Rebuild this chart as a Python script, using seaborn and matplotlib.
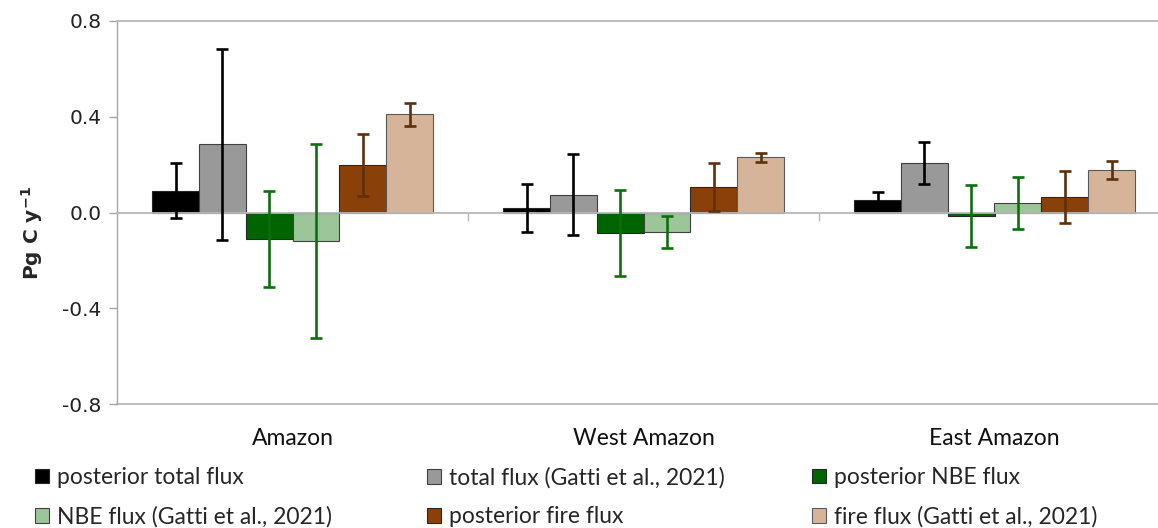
import matplotlib
matplotlib.use("Agg")
import matplotlib.pyplot as plt
from matplotlib.patches import Patch
import numpy as np
import pandas as pd
import seaborn as sns

# Regions and flux series
regions = ["Amazon", "West Amazon", "East Amazon"]
series = [
    "posterior total flux",
    "total flux (Gatti et al., 2021)",
    "posterior NBE flux",
    "NBE flux (Gatti et al., 2021)",
    "posterior fire flux",
    "fire flux (Gatti et al., 2021)",
]

# Mean fluxes (Pg C / yr), one list per series, ordered by region
posterior_total = [0.090, 0.020, 0.053]
gatti_total = [0.285, 0.075, 0.207]
posterior_nbe = [-0.110, -0.085, -0.015]
gatti_nbe = [-0.120, -0.082, 0.040]
posterior_fire = [0.200, 0.105, 0.065]
gatti_fire = [0.410, 0.230, 0.177]

# Uncertainties (symmetric error bars)
posterior_total_err = [0.115, 0.100, 0.033]
gatti_total_err = [0.400, 0.170, 0.088]
posterior_nbe_err = [0.200, 0.180, 0.130]
gatti_nbe_err = [0.405, 0.067, 0.110]
posterior_fire_err = [0.130, 0.100, 0.110]
gatti_fire_err = [0.047, 0.020, 0.038]

values = [posterior_total, gatti_total, posterior_nbe, gatti_nbe, posterior_fire, gatti_fire]
errors = [posterior_total_err, gatti_total_err, posterior_nbe_err, gatti_nbe_err,
          posterior_fire_err, gatti_fire_err]

bar_colors = ["#000000", "#999999", "#006400", "#9dc59a", "#8a4109", "#d6b499"]
edge_colors = ["#262626", "#404040", "#262626", "#404040", "#262626", "#595959"]
err_colors = ["#000000", "#000000", "#0b700b", "#0b700b", "#5e2f0b", "#5e2f0b"]

df = pd.DataFrame(
    [(r, s, v) for s, vals in zip(series, values) for r, v in zip(regions, vals)],
    columns=["region", "series", "flux"],
)

sns.set_theme(style="white")
plt.rcParams["font.family"] = ["DejaVu Sans"]
text_font = ["Lato", "DejaVu Sans"]

W, H = 1158, 528
fig = plt.figure(figsize=(W / 100, H / 100), dpi=100)
# Plot area runs slightly past the right edge of the canvas
left_px, right_px, top_px, bot_px = 117, 1170, 21, 404
ax = fig.add_axes([left_px / W, 1 - bot_px / H, (right_px - left_px) / W, (bot_px - top_px) / H])

sns.barplot(
    data=df, x="region", y="flux", hue="series", order=regions, hue_order=series,
    palette=bar_colors, saturation=1, width=0.8, gap=0, errorbar=None, legend=False,
    linewidth=0.8, ax=ax,
)

# Per-series edges and error bars, positioned from the drawn patches
bars = ax.patches
k = 0
for i in range(len(series)):
    for j in range(len(regions)):
        p = bars[k]
        k += 1
        p.set_edgecolor(edge_colors[i])
        cx = p.get_x() + p.get_width() / 2
        ax.errorbar(cx, values[i][j], yerr=errors[i][j], fmt="none",
                    ecolor=err_colors[i], elinewidth=1.9, capsize=4.5,
                    capthick=1.9, zorder=5)

ax.set_xlim(-0.5, 2.5)
ax.set_ylim(-0.8, 0.8)
ax.set_yticks([-0.8, -0.4, 0.0, 0.4, 0.8])
ax.set_yticklabels(["-0.8", "-0.4", "0.0", "0.4", "0.8"], fontsize=14.5,
                   family="DejaVu Sans", color="#222222")
ax.tick_params(axis="y", direction="out", length=6, width=1, color="#a6a6a6",
               pad=5, left=True)

# Horizontal axis sits at zero; category boundaries get short ticks
grey = "#b8b8b8"
ax.spines["bottom"].set_position(("data", 0))
ax.spines["bottom"].set_color(grey)
ax.spines["bottom"].set_linewidth(1.3)
ax.spines["left"].set_color("#a6a6a6")
ax.spines["left"].set_linewidth(1.0)
ax.spines["top"].set_color(grey)
ax.spines["top"].set_linewidth(1.3)
ax.spines["right"].set_visible(False)
ax.axhline(-0.8, color=grey, lw=1.3, zorder=0, clip_on=False)

ax.set_xticks([0, 1, 2])
ax.set_xticklabels(regions, fontsize=16.5, family=text_font, color="#111111")
ax.set_xticks([0.5, 1.5], minor=True)
ax.tick_params(axis="x", which="major", length=0, pad=155)
ax.tick_params(axis="x", which="minor", direction="out", length=6, width=1,
               color=grey, bottom=True)
ax.set_xlabel("")
ax.set_ylabel("Pg C y$^{\\mathbf{-1}}$", fontsize=14.5, fontweight="bold")
ax.yaxis.set_label_coords(-0.068, 0.446)

# Legend laid out as three columns of two entries
handles = [Patch(facecolor=c, edgecolor=e, linewidth=0.8) for c, e in zip(bar_colors, edge_colors)]
col_x = [0.0302, 0.3687, 0.7012]
for c in range(3):
    idx = [c, c + 3]
    fig.legend([handles[i] for i in idx], [series[i] for i in idx],
               loc="upper left", bbox_to_anchor=(col_x[c], 0.115), frameon=False,
               prop={"family": text_font, "size": 16.5},
               handlelength=0.6, handleheight=0.6, handletextpad=0.35,
               labelspacing=0.77, borderaxespad=0, borderpad=0)

fig.savefig("out.png", dpi=100)
